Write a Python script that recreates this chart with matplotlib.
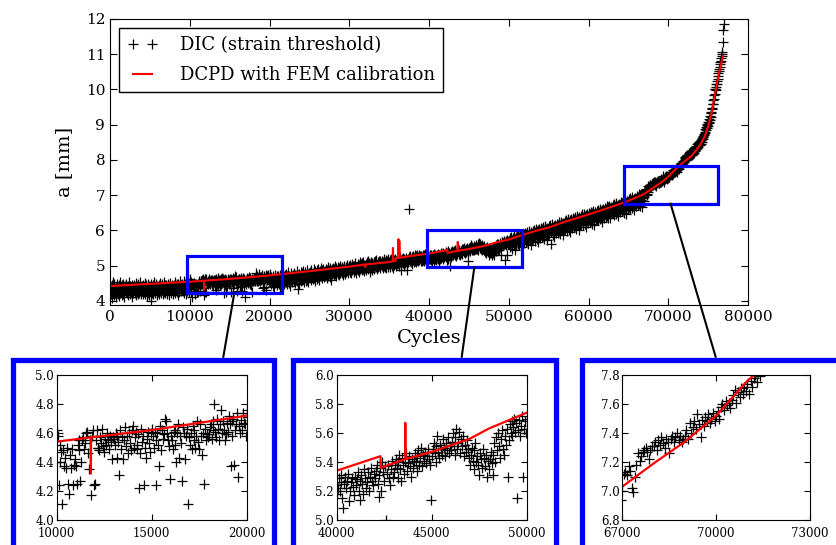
import numpy as np
import matplotlib
matplotlib.use('Agg')
import matplotlib.pyplot as plt
from matplotlib.patches import Rectangle, ConnectionPatch

plt.rcParams['font.family'] = ['DejaVu Serif']

# DIC crack length (strain threshold), 1/100 mm
# one row per 1000 cycles, one image every 50 cycles
dic_rows = [
    [441, 428, 419, 436, 408, 445, 430, 452, 424, 415, 438, 447, 426, 433, 412, 440, 421, 449, 435, 418],
    [437, 425, 446, 414, 431, 452, 422, 439, 428, 417, 444, 433, 420, 449, 427, 436, 411, 442, 430, 424],
    [448, 432, 421, 438, 426, 415, 443, 435, 452, 419, 430, 441, 424, 437, 410, 446, 428, 434, 421, 440],
    [433, 445, 422, 438, 416, 450, 429, 441, 425, 436, 418, 447, 432, 423, 440, 428, 453, 419, 436, 427],
    [442, 429, 418, 437, 446, 424, 433, 451, 420, 439, 427, 445, 414, 436, 430, 448, 423, 441, 417, 434],
    [429, 440, 400, 436, 447, 423, 431, 419, 444, 428, 452, 435, 421, 438, 426, 449, 432, 417, 441, 430],
    [438, 424, 445, 431, 419, 450, 427, 436, 443, 422, 433, 447, 418, 440, 429, 454, 425, 437, 421, 444],
    [431, 446, 425, 438, 420, 449, 434, 427, 442, 416, 439, 451, 428, 435, 423, 446, 432, 419, 441, 437],
    [444, 429, 452, 436, 421, 440, 433, 447, 426, 438, 415, 449, 431, 442, 424, 455, 437, 428, 446, 433],
    [439, 448, 427, 441, 433, 456, 422, 445, 436, 430, 451, 419, 443, 438, 428, 453, 434, 446, 425, 440],
    [462, 458, 424, 452, 440, 447, 411, 448, 437, 443, 436, 450, 425, 418, 445, 436, 449, 424, 438, 442],
    [437, 425, 452, 448, 455, 427, 440, 455, 457, 449, 453, 460, 461, 446, 435, 455, 417, 458, 462, 424],
    [425, 455, 462, 450, 450, 448, 457, 453, 463, 451, 447, 456, 452, 460, 455, 449, 458, 454, 442, 457],
    [456, 452, 460, 443, 458, 454, 431, 462, 449, 457, 442, 455, 464, 451, 458, 446, 460, 453, 448, 462],
    [465, 450, 457, 461, 452, 449, 459, 422, 446, 463, 454, 458, 424, 450, 443, 456, 461, 453, 447, 460],
    [463, 458, 450, 461, 424, 455, 460, 452, 437, 465, 448, 462, 456, 459, 470, 468, 460, 455, 451, 428],
    [458, 455, 449, 461, 462, 452, 440, 460, 466, 443, 458, 453, 427, 464, 460, 442, 458, 463, 411, 457],
    [452, 460, 449, 465, 455, 462, 450, 458, 468, 454, 449, 466, 458, 445, 460, 425, 463, 455, 459, 457],
    [459, 464, 466, 456, 462, 468, 480, 461, 457, 470, 463, 455, 466, 476, 460, 468, 462, 455, 459, 467],
    [461, 472, 466, 437, 458, 468, 470, 438, 462, 466, 474, 430, 465, 460, 469, 462, 474, 467, 466, 458],
    [476, 471, 455, 463, 448, 468, 459, 452, 470, 442, 465, 457, 438, 461, 473, 450, 466, 455, 446, 469],
    [462, 455, 471, 448, 466, 458, 440, 474, 452, 463, 469, 445, 457, 476, 451, 465, 460, 447, 472, 456],
    [468, 453, 475, 461, 447, 470, 458, 482, 450, 464, 471, 456, 443, 467, 478, 459, 466, 452, 473, 461],
    [470, 457, 479, 463, 451, 474, 458, 466, 484, 455, 468, 433, 472, 460, 477, 449, 469, 462, 481, 456],
    [466, 478, 459, 472, 485, 461, 470, 453, 476, 468, 481, 457, 473, 464, 487, 460, 475, 452, 469, 479],
    [471, 483, 464, 476, 458, 488, 469, 475, 462, 480, 473, 490, 466, 477, 455, 484, 470, 479, 463, 486],
    [476, 467, 489, 472, 481, 460, 485, 474, 492, 469, 478, 486, 465, 480, 473, 491, 468, 483, 477, 470],
    [484, 473, 491, 466, 486, 478, 495, 470, 482, 488, 475, 493, 468, 485, 480, 460, 489, 476, 483, 494],
    [479, 490, 472, 486, 498, 475, 484, 492, 470, 488, 481, 496, 476, 487, 493, 473, 485, 499, 478, 490],
    [487, 495, 480, 492, 474, 489, 500, 483, 494, 486, 476, 497, 488, 481, 502, 490, 478, 493, 485, 499],
    [491, 483, 502, 488, 496, 479, 493, 505, 486, 498, 490, 482, 500, 494, 487, 506, 480, 497, 492, 489],
    [496, 488, 505, 492, 501, 483, 498, 509, 490, 503, 495, 486, 507, 499, 491, 510, 485, 502, 494, 497],
    [493, 504, 498, 486, 509, 495, 501, 512, 490, 506, 499, 483, 505, 497, 511, 492, 503, 488, 508, 500],
    [498, 509, 503, 491, 513, 500, 506, 495, 516, 502, 489, 510, 504, 497, 514, 499, 507, 493, 512, 505],
    [506, 498, 514, 503, 492, 511, 507, 518, 500, 509, 496, 515, 505, 494, 512, 508, 501, 519, 497, 510],
    [503, 515, 508, 497, 518, 506, 512, 500, 520, 509, 494, 516, 511, 502, 519, 507, 499, 514, 510, 517],
    [512, 505, 519, 508, 523, 498, 515, 510, 524, 503, 517, 486, 520, 511, 507, 522, 514, 499, 518, 513],
    [515, 508, 521, 512, 486, 517, 506, 519, 510, 524, 660, 518, 513, 527, 509, 520, 515, 503, 523, 516],
    [518, 526, 511, 521, 529, 514, 523, 509, 527, 517, 530, 520, 512, 525, 518, 531, 515, 522, 528, 513],
    [520, 527, 514, 523, 531, 517, 526, 512, 529, 521, 533, 518, 525, 515, 530, 522, 528, 516, 532, 524],
    [518, 522, 529, 520, 526, 531, 515, 508, 525, 530, 522, 527, 532, 513, 520, 526, 529, 523, 517, 530],
    [524, 528, 533, 520, 514, 527, 531, 525, 518, 535, 529, 522, 526, 533, 520, 530, 536, 527, 524, 532],
    [529, 534, 538, 525, 516, 531, 536, 520, 540, 533, 527, 537, 500, 532, 538, 529, 524, 535, 541, 530],
    [533, 538, 542, 536, 529, 540, 545, 535, 527, 543, 538, 532, 540, 546, 534, 539, 544, 537, 530, 542],
    [536, 541, 546, 540, 534, 544, 548, 538, 543, 550, 537, 545, 541, 547, 539, 544, 549, 542, 538, 514],
    [544, 549, 553, 546, 540, 551, 558, 547, 543, 552, 549, 545, 556, 550, 544, 553, 548, 557, 546, 551],
    [548, 554, 560, 551, 545, 557, 563, 549, 553, 561, 546, 556, 551, 558, 544, 552, 547, 555, 549, 543],
    [538, 545, 550, 541, 535, 548, 553, 540, 544, 538, 531, 546, 542, 536, 549, 543, 537, 545, 530, 541],
    [535, 542, 547, 539, 531, 545, 553, 540, 557, 548, 560, 551, 543, 556, 562, 549, 545, 558, 552, 563],
    [530, 555, 566, 560, 568, 558, 564, 570, 561, 567, 515, 562, 569, 558, 565, 572, 530, 563, 568, 560],
    [570, 560, 578, 552, 575, 564, 582, 556, 573, 548, 579, 567, 584, 559, 576, 545, 571, 580, 562, 574],
    [572, 584, 562, 579, 588, 557, 581, 568, 590, 575, 560, 583, 565, 586, 553, 580, 570, 589, 573, 564],
    [584, 574, 592, 566, 589, 578, 596, 570, 587, 562, 593, 581, 598, 573, 590, 559, 585, 594, 576, 588],
    [586, 598, 576, 593, 602, 571, 595, 582, 604, 589, 574, 597, 579, 600, 567, 594, 584, 603, 587, 578],
    [598, 588, 606, 580, 603, 592, 610, 584, 601, 576, 607, 595, 612, 587, 604, 573, 599, 608, 590, 602],
    [599, 611, 589, 606, 615, 560, 608, 595, 617, 602, 587, 610, 592, 613, 580, 607, 597, 616, 600, 591],
    [611, 601, 619, 593, 616, 605, 623, 597, 614, 589, 620, 608, 625, 600, 617, 586, 612, 621, 603, 615],
    [614, 626, 604, 621, 630, 599, 623, 610, 632, 617, 602, 625, 607, 628, 595, 622, 612, 631, 615, 606],
    [627, 617, 635, 609, 632, 621, 639, 613, 630, 605, 636, 624, 641, 616, 633, 602, 628, 637, 619, 631],
    [629, 641, 619, 636, 645, 614, 638, 625, 647, 632, 617, 640, 622, 643, 610, 637, 627, 646, 630, 621],
    [641, 631, 649, 623, 646, 635, 653, 627, 644, 619, 650, 638, 655, 630, 647, 616, 642, 651, 633, 645],
    [643, 655, 633, 650, 659, 628, 652, 639, 661, 646, 631, 654, 636, 657, 624, 651, 641, 660, 644, 635],
    [656, 646, 664, 638, 661, 650, 668, 642, 659, 634, 665, 653, 670, 645, 662, 635, 657, 666, 648, 660],
    [659, 671, 649, 666, 675, 644, 668, 655, 677, 662, 647, 670, 652, 673, 640, 667, 657, 676, 660, 651],
    [672, 662, 680, 654, 677, 666, 684, 658, 675, 650, 681, 669, 686, 661, 678, 647, 673, 682, 664, 676],
    [676, 688, 666, 683, 692, 661, 685, 672, 694, 679, 664, 687, 669, 690, 657, 684, 674, 693, 677, 668],
    [690, 680, 698, 672, 695, 684, 702, 676, 693, 668, 699, 687, 704, 679, 696, 665, 691, 700, 682, 694],
    [700, 712, 713, 711, 717, 714, 702, 699, 710, 718, 726, 721, 724, 727, 728, 730, 727, 722, 728, 731],
    [731, 734, 728, 735, 732, 737, 733, 730, 736, 734, 726, 736, 738, 734, 737, 740, 735, 738, 734, 736],
    [738, 742, 736, 747, 740, 744, 748, 743, 753, 746, 737, 749, 745, 751, 748, 753, 747, 750, 754, 748],
    [752, 755, 750, 758, 760, 756, 762, 759, 761, 757, 763, 766, 770, 761, 768, 765, 771, 767, 772, 769],
    [774, 767, 776, 772, 778, 780, 775, 782, 779, 785, 783, 787, 790, 786, 792, 789, 795, 791, 797, 794],
    [796, 805, 799, 808, 801, 811, 804, 813, 806, 815, 809, 818, 811, 820, 813, 822, 815, 824, 818, 826],
    [814, 821, 817, 826, 820, 830, 824, 833, 827, 837, 831, 840, 834, 844, 838, 847, 842, 851, 846, 855],
    [841, 850, 846, 856, 852, 862, 858, 868, 864, 874, 871, 880, 877, 887, 884, 894, 891, 901, 898, 908],
    [896, 907, 904, 915, 913, 925, 923, 935, 934, 946, 945, 958, 958, 971, 972, 985, 986, 1000, 1002, 1016],
    [998, 1008, 1016, 1024, 1031, 1039, 1046, 1052, 1059, 1065, 1071, 1077, 1082, 1088, 1094, 1100, 1106, 1135, 1170, 1185],
]

# DCPD crack length with FEM calibration
dcpd_cycles = [0, 5000, 10000, 11790, 11800, 11810, 15000, 20000, 25000, 30000,
               31950, 32000, 32050, 35000, 35450, 35480, 35510, 35800, 35820,
               36150, 36170, 36190, 36260, 36280, 36300, 38000, 40000, 42300, 42320,
               43600, 43610, 43620, 45000, 47000, 48000, 50000, 53000, 55000, 57000,
               60000, 62000, 64600, 67000, 68000, 69000, 70000, 71000, 72000, 73000,
               74000, 74600, 75000, 75500, 76000, 76400, 76860]
dcpd_a = [4.42, 4.48, 4.54, 4.57, 4.32, 4.57, 4.62, 4.72, 4.84, 4.97,
          5.03, 4.96, 5.03, 5.10, 5.12, 5.50, 5.12, 5.13, 5.21,
          5.22, 5.75, 5.22, 5.22, 5.70, 5.22, 5.28, 5.34, 5.44, 5.36,
          5.42, 5.67, 5.42, 5.47, 5.56, 5.63, 5.74, 5.96, 6.08, 6.24,
          6.45, 6.60, 6.80, 7.03, 7.19, 7.34, 7.52, 7.76, 7.95, 8.13,
          8.42, 8.68, 8.95, 9.40, 10.05, 10.50, 10.95]

dic_cycles = []
dic_a = []
for k, row in enumerate(dic_rows):
    for i, v in enumerate(row):
        dic_cycles.append(1000 * k + 50 * i)
        dic_a.append(v / 100.0)

# zoom windows: (xlim, ylim, xticks)
zooms = [
    ((10000, 20000), (4.0, 5.0), [10000, 15000, 20000]),
    ((40000, 50000), (5.0, 6.0), [40000, 45000, 50000]),
    ((67000, 73000), (6.8, 7.8), [67000, 70000, 73000]),
]
# boxes drawn on the main plot (x0, y0, width, height) in data units
boxes = [(9620, 4.21, 11920, 1.06), (39730, 4.95, 11910, 1.06), (64390, 6.76, 11790, 1.07)]

W, H = 836, 545
fig = plt.figure(figsize=(W / 100, H / 100), dpi=100)

ax = fig.add_axes([110 / W, 1 - 305 / H, 638 / W, 286 / H])
ax.plot(dic_cycles, dic_a, '+', color='black', ms=6.5, mew=0.9, label='DIC (strain threshold)')
ax.plot(dcpd_cycles, dcpd_a, '-', color='red', lw=1.5, label='DCPD with FEM calibration')
ax.set_xlim(0, 80000)
ax.set_ylim(3.88, 12)
ax.set_xticks(np.arange(0, 80001, 10000))
ax.set_yticks(np.arange(4, 13, 1))
ax.tick_params(direction='in', top=True, right=True, length=5, width=0.8, labelsize=11)
ax.set_xlabel('Cycles', fontsize=14, labelpad=4)
ax.set_ylabel('a [mm]', fontsize=14, labelpad=9)
leg = ax.legend(loc='upper left', numpoints=2, fancybox=False, fontsize=13,
                handlelength=1.7, handletextpad=1.2, labelspacing=0.65,
                framealpha=1, borderpad=0.45)
leg.get_frame().set_edgecolor('black')
leg.get_frame().set_linewidth(1.0)

for (x0, y0, w, h) in boxes:
    ax.add_patch(Rectangle((x0, y0), w, h, fill=False, edgecolor='blue', lw=2.3, zorder=6))

# blue frames around the zoomed plots (pixel layout)
frames = [(12.5, 273.5), (292.5, 555.5), (582, 850)]
for (l, r) in frames:
    fig.add_artist(Rectangle((l / W, -3 / H), (r - l) / W, (H + 3 - 360) / H,
                             transform=fig.transFigure, fill=False, edgecolor='blue',
                             lw=3.8, clip_on=False))

inset_pos = [(56.7, 190), (336.7, 190), (622.3, 187.7)]
link_end = [223.3, 461.7, 715.7]
for (xl, yl, xt), (l, w), box, xe in zip(zooms, inset_pos, boxes, link_end):
    ins = fig.add_axes([l / W, 1 - 520 / H, w / W, 145 / H])
    ins.plot(dic_cycles, dic_a, '+', color='black', ms=7, mew=0.9)
    ins.plot(dcpd_cycles, dcpd_a, '-', color='red', lw=1.6)
    ins.set_xlim(*xl)
    ins.set_ylim(*yl)
    ins.set_xticks(xt)
    ins.set_yticks(np.round(np.arange(yl[0], yl[1] + 0.01, 0.2), 1))
    ins.yaxis.set_major_formatter(plt.FormatStrFormatter('%.1f'))
    ins.tick_params(direction='in', top=True, right=True, length=4, width=0.8,
                    labelsize=8.5, pad=2)
    ins.tick_params(axis='x', pad=5)
    con = ConnectionPatch(xyA=(box[0] + box[2] / 2, box[1]), coordsA=ax.transData,
                          xyB=(xe / W, 1 - 357 / H), coordsB=fig.transFigure,
                          color='black', lw=1.5)
    fig.add_artist(con)

fig.savefig('out.png', dpi=100)
